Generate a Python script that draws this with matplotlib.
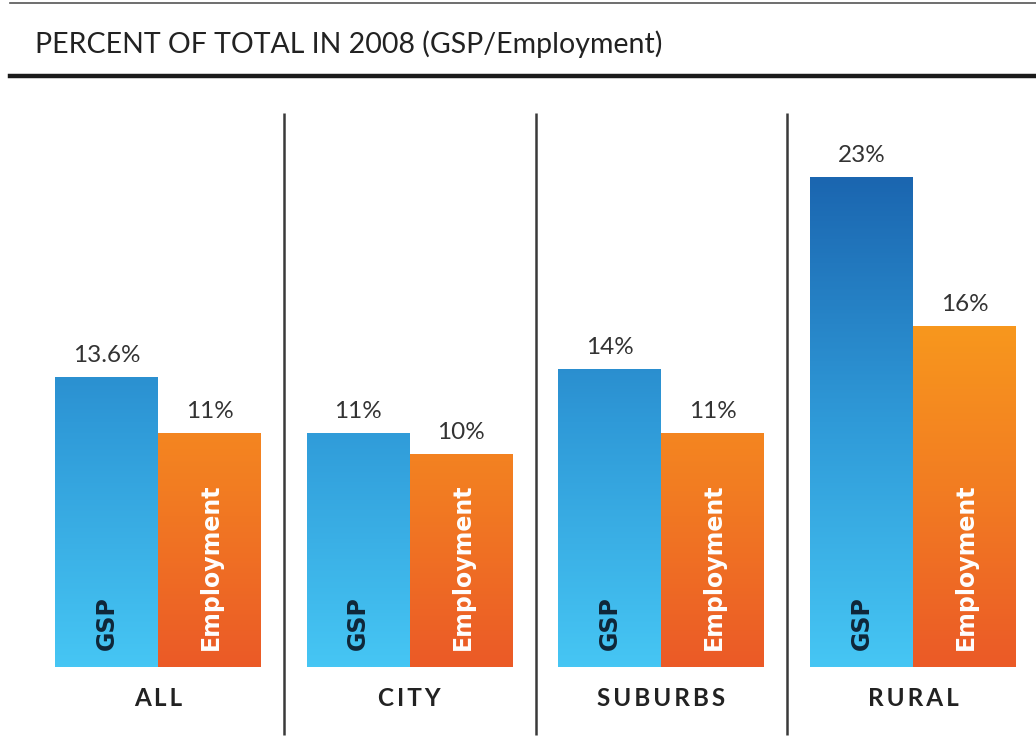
import numpy as np
import matplotlib
matplotlib.use("Agg")
import matplotlib.pyplot as plt
from matplotlib.colors import LinearSegmentedColormap, Normalize
from matplotlib.lines import Line2D

# data
groups = ["ALL", "CITY", "SUBURBS", "RURAL"]
gsp = [13.6, 11, 14, 23]
employment = [11, 10, 11, 16]
gsp_labels = ["13.6%", "11%", "14%", "23%"]
emp_labels = ["11%", "10%", "11%", "16%"]
title = "PERCENT OF TOTAL IN 2008 (GSP/Employment)"

W, H = 1036, 745
fig = plt.figure(figsize=(W / 100, H / 100), dpi=100)

# axes placed so that group centres land where they sit in the original
base_px, top_px = 667, 113
ax = fig.add_axes([0, (H - base_px) / H, 1, (base_px - top_px) / H])
ymax = (base_px - top_px) / 21.3
xlim = (-158 / 251.7, (W - 158) / 251.7)
ax.axis("off")

blue = LinearSegmentedColormap.from_list("b", ["#46c6f4", "#2f9ad8", "#1b66b0"])
orange = LinearSegmentedColormap.from_list("o", ["#eb5a27", "#f27c22", "#f8991d"])
bnorm = Normalize(0, 23)
onorm = Normalize(0, 16.5)

w = 0.409
x = np.arange(len(groups))


def grad_bar(xc, h, cmap, norm):
    bar = ax.bar(xc, h, width=w, color="none", linewidth=0)[0]
    vals = np.linspace(0, h, 200).reshape(-1, 1)
    im = ax.imshow(vals, cmap=cmap, norm=norm, origin="lower", aspect="auto",
                   extent=[xc - w / 2, xc + w / 2, 0, h], zorder=2)
    im.set_clip_path(bar)


for i in range(len(groups)):
    grad_bar(x[i] - w / 2, gsp[i], blue, bnorm)
    grad_bar(x[i] + w / 2, employment[i], orange, onorm)

    ax.annotate(gsp_labels[i], (x[i] - w / 2, gsp[i]), xytext=(0, 8),
                textcoords="offset points", ha="center", va="bottom",
                fontsize=17.5, color="#333333", family=["Lato", "DejaVu Sans"])
    ax.annotate(emp_labels[i], (x[i] + w / 2, employment[i]), xytext=(0, 8),
                textcoords="offset points", ha="center", va="bottom",
                fontsize=17.5, color="#333333", family=["Lato", "DejaVu Sans"])

    ax.text(x[i] - w / 2, 0.8, "GSP", rotation=90, ha="center", va="bottom",
            fontsize=17, fontweight="bold", color="#0f2638", zorder=3,
            family="DejaVu Sans")
    ax.text(x[i] + w / 2 + 0.005, 0.8, "Employment", rotation=90, ha="center",
            va="bottom", fontsize=17, fontweight="bold", color="white", zorder=3,
            family="DejaVu Sans")

    ax.text(x[i], -1.5, "\u2009".join(groups[i]), ha="center", va="center",
            fontsize=17.5, fontweight="bold", color="#222222",
            family=["Lato", "DejaVu Sans"])

# separators between groups
ax.vlines(x[:-1] + 0.5, (base_px - 735) / 21.3, ymax, color="#3a3a3a",
          linewidth=1.8, clip_on=False)

ax.set_xlim(*xlim)
ax.set_ylim(0, ymax)

# header rules and title
fig.add_artist(Line2D([10 / W, 1], [1 - 3 / H, 1 - 3 / H], color="#555555", linewidth=1.2))
fig.add_artist(Line2D([10 / W, 1], [1 - 76 / H, 1 - 76 / H], color="#1a1a1a", linewidth=3.2))
fig.text(35 / W, 1 - 44 / H, title, ha="left", va="center", fontsize=20.5,
         color="#222222", family=["Lato", "DejaVu Sans"])

plt.savefig("out.png", dpi=100)
